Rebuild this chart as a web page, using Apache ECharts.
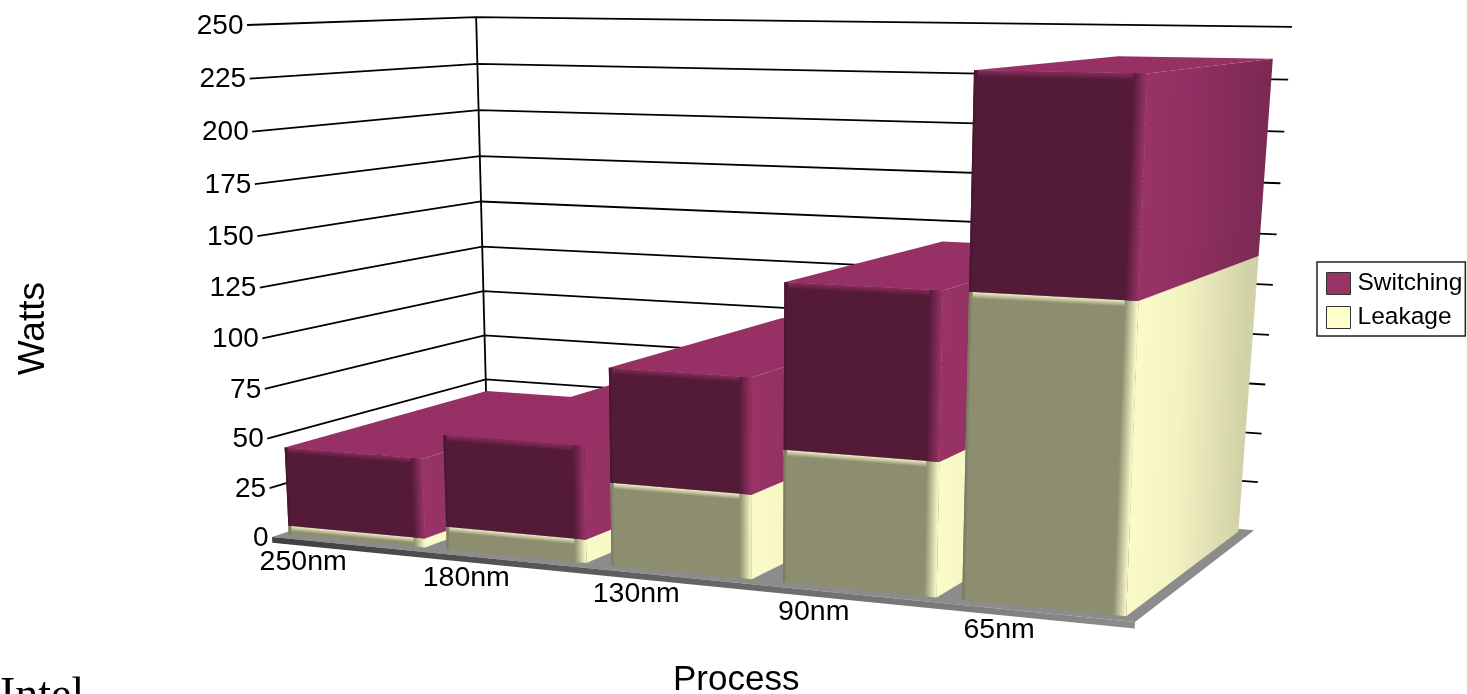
<!DOCTYPE html>
<html>
<head>
<meta charset="utf-8">
<title>Watts by process</title>
<script src="https://cdn.jsdelivr.net/npm/echarts@6/dist/echarts.min.js"></script>
<style>
  html, body { margin: 0; padding: 0; background: #fff; overflow: hidden; }
  #chart { width: 1467px; height: 694px; }
</style>
</head>
<body>
<div id="chart"></div>
<script>
var categories = ['250nm', '180nm', '130nm', '90nm', '65nm'];
var leakage = [4.5, 11.5, 40.3, 62.7, 139.7];
var switching = [40, 45.5, 55, 77, 95.3];
var yTicks = [0, 25, 50, 75, 100, 125, 150, 175, 200, 225, 250];

var FONT = '"Liberation Sans", Arial, sans-serif';

// flat grid point (from the axes) + depth -> picture point. perspective fitted by hand to the picture's box
function warp(params, pt, z) {
  var c = params.coordSys;
  var s = (pt[0] - c.x) / c.width;
  var t = (c.y + c.height - pt[1]) / c.height;
  var wx = 1 - 0.1 * s + 0.142 * z - 0.05 * t;
  var wy = 1 - 0.125 * s + 0.142 * z - 0.05 * t;
  return [
    (272 + 749.5 * s + 285.3 * z - 37.35 * t) / wx + 12.4 * s * z * t,
    (537 + 7.25 * s - 5 * z - 513.25 * t) / wy
  ];
}

// gradient running from edge a-b across to point p
function acrossEdge(a, b, p, stops) {
  var ex = b[0] - a[0], ey = b[1] - a[1];
  var len = ex * ex + ey * ey;
  var k = ((p[0] - a[0]) * ex + (p[1] - a[1]) * ey) / len;
  var fx = a[0] + ex * k, fy = a[1] + ey * k;
  return { type: 'linear', global: true, x: fx, y: fy, x2: p[0], y2: p[1], colorStops: stops };
}
function stops2(c0, c1) { return [{ offset: 0, color: c0 }, { offset: 1, color: c1 }]; }

// bars sit a little left of the band centre in the picture, and their widths are uneven
var BAR_LEFT = 0.455, Z0 = 0.04, Z1 = 0.97;
var barRight = [0.41, 0.395, 0.365, 0.405, 0.425];

function boxRenderer(colors, order) {
  return function (params, api) {
    var i = api.value(0), lo = api.value(1), hi = api.value(2);
    var band = api.size([1, 0])[0];
    var cx = api.coord([i, 0])[0];
    var xa = cx - band * BAR_LEFT, xb = cx + band * barRight[i];
    var yLo = api.coord([i, lo])[1], yHi = api.coord([i, hi])[1];
    var P = function (x, y, z) { return warp(params, [x, y], z); };
    var fl = P(xa, yLo, Z0), fr = P(xb, yLo, Z0), ftr = P(xb, yHi, Z0), ftl = P(xa, yHi, Z0);
    var br = P(xb, yLo, Z1), btr = P(xb, yHi, Z1), btl = P(xa, yHi, Z1);
    var bevel = band * 0.07;
    var inR = P(xb - bevel, yLo, Z0), inRt = P(xb - bevel, yHi, Z0);
    var bevelY = 6;
    var inTl = P(xa, yHi + bevelY, Z0), inTr = P(xb, yHi + bevelY, Z0);
    var inL = P(xa + band * 0.02, yLo, Z0), inLt = P(xa + band * 0.02, yHi, Z0);
    var z = 10 + i * 10 + order;
    var poly = function (pts, fill, zz) {
      return { type: 'polygon', z2: zz, shape: { points: pts }, style: { fill: fill } };
    };
    return {
      type: 'group',
      children: [
        poly([fr, br, btr, ftr], acrossEdge(fr, ftr, br, [
          { offset: 0, color: colors.sideHi },
          { offset: 0.4, color: colors.sideMid },
          { offset: 1, color: colors.sideLo }
        ]), z),
        poly([ftl, ftr, btr, btl], colors.top, z),
        poly([fl, fr, ftr, ftl], colors.front, z + 1),
        poly([ftl, ftr, inTr, inTl], acrossEdge(ftl, ftr, inTl, stops2(colors.edge, colors.front)), z + 2),
        poly([fl, inL, inLt, ftl], acrossEdge(fl, ftl, inL, stops2(colors.leftEdge, colors.front)), z + 2),
        poly([inR, fr, ftr, inRt], acrossEdge(inR, inRt, fr, stops2(colors.front, colors.sideHi)), z + 3)
      ]
    };
  };
}

var switchingColors = {
  top: '#963065', front: '#541b38', edge: '#8a2b5c', leftEdge: '#45152e',
  sideHi: '#993366', sideMid: '#902f61', sideLo: '#7c2a54'
};
var leakageColors = {
  top: '#e8e8bc', front: '#8d8d6f', edge: '#f0f0c6', leftEdge: '#77775c',
  sideHi: '#fbfbca', sideMid: '#f3f3c2', sideLo: '#d2d2a8'
};

function renderFloor(params, api) {
  var band = api.size([1, 0])[0];
  var x0 = api.coord([0, 0])[0] - band / 2;
  var x1 = api.coord([categories.length - 1, 0])[0] + band / 2;
  var y0 = api.coord([0, 0])[1], yD = api.coord([0, -3])[1];
  var P = function (x, y, z) { return warp(params, [x, y], z); };
  var a = P(x0, y0, 0), b = P(x1, y0, 0), c = P(x1, y0, 1), d = P(x0, y0, 1);
  var a2 = P(x0, yD, 0), b2 = P(x1, yD, 0);
  return {
    type: 'group',
    children: [
      { type: 'polygon', z2: 0, shape: { points: [a, b, c, d] }, style: { fill: '#8c8c8c' } },
      {
        type: 'polygon', z2: 0, shape: { points: [a, b, b2, a2] },
        style: { fill: { type: 'linear', global: true, x: a[0], y: a[1], x2: b[0], y2: b[1], colorStops: stops2('#3f3f3f', '#8c8c8c') } }
      }
    ]
  };
}

function renderTick(params, api) {
  var v = api.value(0);
  var band = api.size([1, 0])[0];
  var x0 = api.coord([0, v])[0] - band / 2;
  var x1 = api.coord([categories.length - 1, v])[0] + band / 2;
  var y = api.coord([0, v])[1];
  var a = warp(params, [x0, y], 0), b = warp(params, [x0, y], 1), c = warp(params, [x1, y], 1);
  var kids = [{
    type: 'text', z2: 200,
    style: { x: a[0] - 3.5, y: a[1] + 1, text: String(v), fill: '#000', font: '28px ' + FONT, align: 'right', verticalAlign: 'middle' }
  }];
  if (v > 0) {
    kids.push({
      type: 'polyline', z2: 1, shape: { points: [a, b, c] },
      style: { fill: 'none', stroke: '#000', lineWidth: 1.8 }
    });
  }
  if (v === 250) {
    var foot = warp(params, [x0, api.coord([0, 0])[1]], 1);
    kids.push({
      type: 'line', z2: 1, shape: { x1: b[0], y1: b[1], x2: foot[0], y2: foot[1] },
      style: { stroke: '#000', lineWidth: 1.8 }
    });
  }
  return { type: 'group', children: kids };
}

function renderCatLabel(params, api) {
  var i = api.value(0);
  var band = api.size([1, 0])[0];
  var pt = api.coord([i, 0]);
  var p = warp(params, [pt[0] - band / 2 + band * (0.2 + 0.02 * i), pt[1]], 0);
  return {
    type: 'text', z2: 200,
    style: { x: p[0], y: p[1] + 22, text: categories[i], fill: '#000', font: '28.5px ' + FONT, align: 'center', verticalAlign: 'middle' }
  };
}

var chart = echarts.init(document.getElementById('chart'));
chart.setOption({
  animation: false,
  backgroundColor: '#fff',
  grid: { left: 272, top: 24, width: 863, height: 513 },
  xAxis: { type: 'category', data: categories, show: false },
  yAxis: { type: 'value', min: 0, max: 250, interval: 25, show: false },
  legend: {
    data: ['Switching', 'Leakage'],
    orient: 'vertical',
    left: 1317,
    top: 262,
    padding: [9, 3, 6, 9],
    itemWidth: 24,
    itemHeight: 22,
    itemGap: 9,
    icon: 'rect',
    selectedMode: false,
    borderColor: '#222',
    borderWidth: 1.5,
    itemStyle: { borderColor: '#333', borderWidth: 1 },
    textStyle: { color: '#000', fontFamily: FONT, fontSize: 24.5, lineHeight: 22, padding: [0, 0, 0, 2] }
  },
  graphic: [
    { type: 'text', left: 15, top: 282, rotation: Math.PI / 2, style: { text: 'Watts', fill: '#000', font: '37px ' + FONT } },
    { type: 'text', left: 673, top: 663, style: { text: 'Process', fill: '#000', font: '35px ' + FONT } },
    { type: 'text', left: 0, top: 674, style: { text: 'Intel', fill: '#000', font: '46px "Liberation Serif", serif' } }
  ],
  series: [
    { type: 'custom', name: 'floor', silent: true, renderItem: renderFloor, data: [[0]], encode: { x: 0 } },
    { type: 'custom', name: 'ticks', silent: true, renderItem: renderTick, data: yTicks.map(function (v) { return [v]; }), encode: { y: 0 } },
    {
      type: 'custom', name: 'Switching', silent: true,
      itemStyle: { color: '#993366' },
      renderItem: boxRenderer(switchingColors, 5),
      data: categories.map(function (c, i) { return [i, leakage[i], leakage[i] + switching[i]]; }),
      encode: { x: 0, y: [1, 2] }
    },
    {
      type: 'custom', name: 'Leakage', silent: true,
      itemStyle: { color: '#ffffcc' },
      renderItem: boxRenderer(leakageColors, 0),
      data: categories.map(function (c, i) { return [i, 0, leakage[i]]; }),
      encode: { x: 0, y: [1, 2] }
    },
    { type: 'custom', name: 'labels', silent: true, renderItem: renderCatLabel, data: categories.map(function (c, i) { return [i]; }), encode: { x: 0 } }
  ]
});
</script>
</body>
</html>
